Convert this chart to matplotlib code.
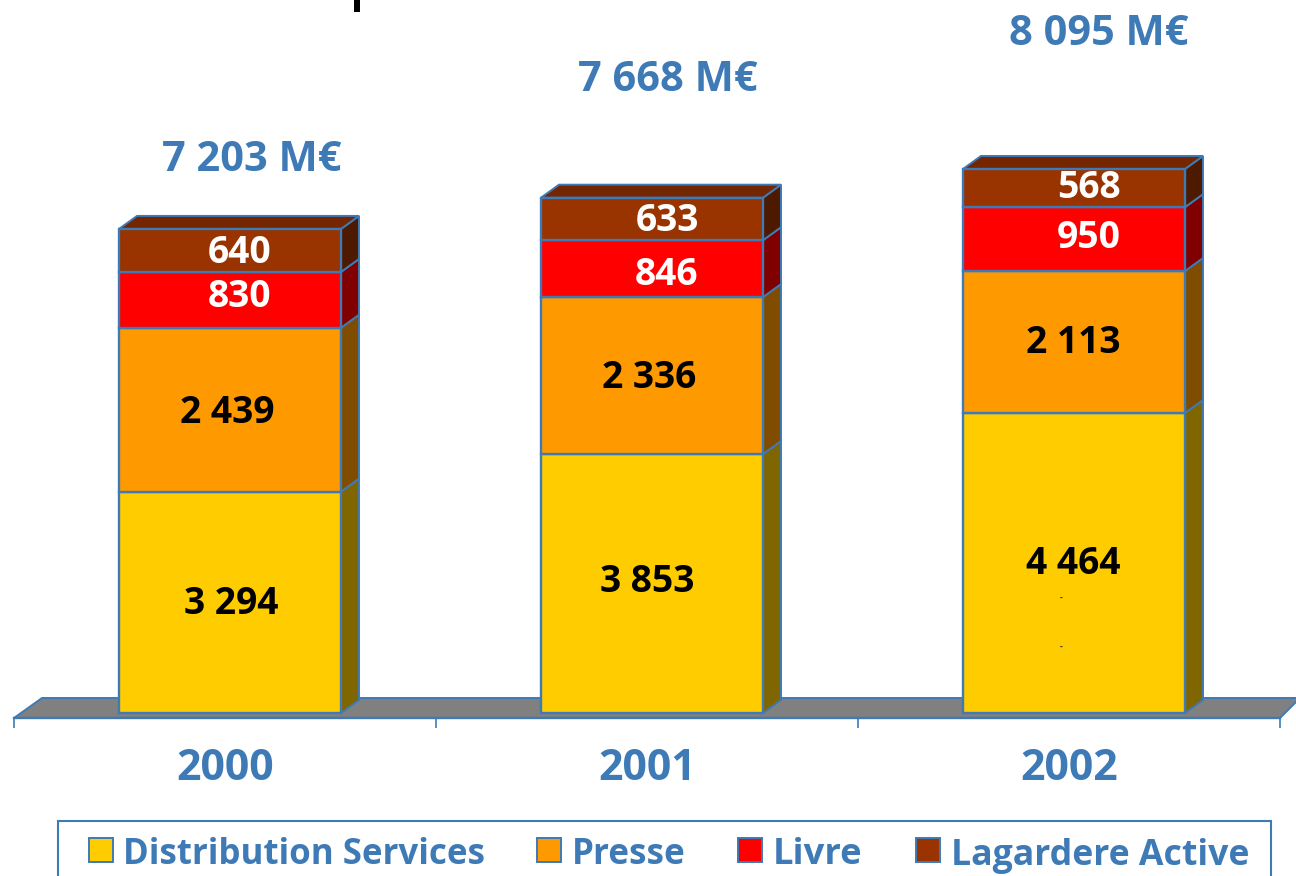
# -*- coding: utf-8 -*-
import matplotlib
matplotlib.use('Agg')
import matplotlib.pyplot as plt
from matplotlib.patches import Polygon, Rectangle
import numpy as np

plt.rcParams['font.family'] = ['Open Sans', 'DejaVu Sans']
plt.rcParams['font.weight'] = 'bold'

years = ['2000', '2001', '2002']
series = ['Distribution Services', 'Presse', 'Livre', 'Lagardere Active']
distribution = [3294, 3853, 4464]
presse = [2439, 2336, 2113]
livre = [830, 846, 950]
active = [640, 633, 568]

front = ['#FFCC00', '#FF9900', '#FF0000', '#993300']
side = ['#806600', '#804D00', '#800000', '#4D1A00']
top_col = '#732600'
blue = '#3E7AB6'
txt_col = ['black', 'black', 'white', 'white']

# label offsets in pixels from the middle of each segment (one row per series)
off_x = [[1, -5, -1], [-3, -3, -1], [10, 15, 15], [10, 15, 15]]
off_y = [[3, 6, 3], [1, 2, 3], [7, -2, 6], [2, 2, 5]]
total_off = [(22, 73), (16, 122), (25, 139)]

W, H = 1296, 876
px_val = 14.88       # value units for one pixel
px_cat = 422.0       # pixels for one category
dep_x = 18 / px_cat
dep_y = 13 * px_val
shift = 5 / px_cat
bw = 222 / px_cat

fig = plt.figure(figsize=(W / 100, H / 100), dpi=100)

# pixel layer, under the chart: floor, legend, stray bits
ov = fig.add_axes([0, 0, 1, 1], zorder=0)
ov.set_xlim(0, W)
ov.set_ylim(H, 0)
ov.axis('off')
ov.add_patch(Polygon([(14, 718), (42, 698), (1300, 698), (1280, 718)], fc='#808080', ec=blue, lw=1.4))
ov.add_patch(Rectangle((354, -2), 6, 14, fc='black', ec='none'))

# chart layer, bottom spine sits on the front edge of the floor
ax = fig.add_axes([14 / W, (H - 718) / H, 1266 / W, 718 / H], zorder=1)
ax.patch.set_visible(False)
ax.set_xlim(-0.5, 2.5)
ax.set_ylim(-5 * px_val, 713 * px_val)
for s in ['top', 'left', 'right']:
    ax.spines[s].set_visible(False)
ax.spines['bottom'].set_color(blue)
ax.spines['bottom'].set_linewidth(1.7)
ax.set_yticks([])
ax.set_xticks([-0.5, 0.5, 1.5, 2.5])
ax.set_xticklabels([])
ax.tick_params(axis='x', which='major', length=7, width=1.2, color=blue)
ax.set_xticks([0, 1, 2], minor=True)
ax.set_xticklabels(years, minor=True, fontsize=30.9, color=blue, fontweight='bold')
ax.tick_params(axis='x', which='minor', length=0, pad=21)

x = np.arange(3) + shift
bottom = np.zeros(3)
values = [distribution, presse, livre, active]
for k, v in enumerate(values):
    v = np.array(v)
    ax.bar(x, v, bw, bottom=bottom, color=front[k], edgecolor=blue, linewidth=1.7, zorder=3)
    for i in range(3):
        r = x[i] + bw / 2
        b, t = bottom[i], bottom[i] + v[i]
        ax.add_patch(Polygon([(r, b), (r + dep_x, b + dep_y), (r + dep_x, t + dep_y), (r, t)],
                             fc=side[k], ec=blue, lw=1.4, zorder=2))
        label = f'{v[i]:,}'.replace(',', ' ')
        ax.annotate(label, (x[i], b + v[i] / 2), xytext=(off_x[k][i] * 0.72, off_y[k][i] * 0.72),
                    textcoords='offset points', ha='center', va='center_baseline',
                    fontsize=26.8, color=txt_col[k], fontweight='bold', zorder=5)
    bottom = bottom + v

for i in range(3):
    l, r = x[i] - bw / 2, x[i] + bw / 2
    t = bottom[i]
    ax.add_patch(Polygon([(l, t), (l + dep_x, t + dep_y), (r + dep_x, t + dep_y), (r, t)],
                         fc=top_col, ec=blue, lw=1.4, zorder=2))
    label = f'{int(t):,}'.replace(',', ' ') + ' M€'
    ax.annotate(label, (x[i], t), xytext=(total_off[i][0] * 0.72, total_off[i][1] * 0.72),
                textcoords='offset points', ha='center', va='center_baseline',
                fontsize=29.9, color=blue, fontweight='bold', zorder=5)

# the two tiny dashes inside the last bar
ax.annotate('-', (x[2], 1700), xytext=(-9, 0), textcoords='offset points', fontsize=6, color='#333333', ha='center', va='center', zorder=5)
ax.annotate('-', (x[2], 980), xytext=(-9, 0), textcoords='offset points', fontsize=6, color='#333333', ha='center', va='center', zorder=5)

# legend, box runs off the bottom of the picture
ov.add_patch(Rectangle((58, 821), 1213, 70, fc='white', ec=blue, lw=1.5))
leg_sq = [89, 537, 738, 916]
leg_tx = [123, 572, 773, 951]
leg_fs = [25.1, 25.2, 26.2, 25.7]
for k, name in enumerate(series):
    ov.add_patch(Rectangle((leg_sq[k], 838), 24, 24, fc=front[k], ec=blue, lw=1.4))
    ov.text(leg_tx[k], 851, name, fontsize=leg_fs[k], color=blue, fontweight='bold', va='center_baseline', ha='left')

fig.savefig('out.png', dpi=100)
